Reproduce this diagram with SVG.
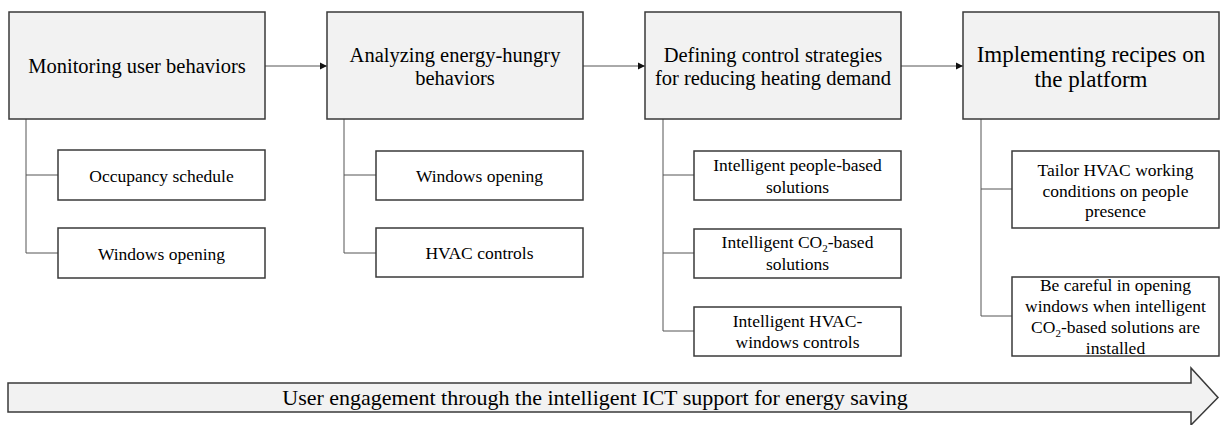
<svg xmlns="http://www.w3.org/2000/svg" width="1220" height="425" viewBox="0 0 1220 425" font-family="'Liberation Serif', 'Times New Roman', serif">
<defs>
<style>
text{font-family:"Liberation Serif","Times New Roman",serif;fill:#000;text-anchor:middle}
.main{fill:#f2f2f2;stroke:#3a3a3a;stroke-width:1.5}
.sub{fill:#fff;stroke:#3a3a3a;stroke-width:1.5}
.big{font-size:20.5px}
.big4{font-size:23px}
.sm{font-size:17.5px}
.conn{fill:none;stroke:#555;stroke-width:1}
</style>
<marker id="ah" markerWidth="8" markerHeight="8" refX="7" refY="4" orient="auto" markerUnits="userSpaceOnUse">
<path d="M0,0.5 L7,4 L0,7.5 Z" fill="#111"/>
</marker>
</defs>
<rect width="1220" height="425" fill="#fff"/>
<g id="connectors">
<line class="conn" x1="265" y1="66" x2="327" y2="66" marker-end="url(#ah)"/>
<line class="conn" x1="583" y1="66" x2="645" y2="66" marker-end="url(#ah)"/>
<line class="conn" x1="901" y1="66" x2="963" y2="66" marker-end="url(#ah)"/>
<path class="conn" d="M26,119 V253 H58 M26,175 H58"/>
<path class="conn" d="M344,119 V253 H376 M344,175 H376"/>
<path class="conn" d="M663,119 V331 H694 M663,175 H694 M663,253 H694"/>
<path class="conn" d="M981,119 V316 H1012 M981,189 H1012"/>
</g>
<g id="n1">
<rect class="main" x="9" y="12" width="256" height="107"/>
<text class="big" x="137" y="73">Monitoring user behaviors</text>
</g>
<g id="n1a">
<rect class="sub" x="58" y="150" width="207" height="50"/>
<text class="sm" x="161.5" y="182">Occupancy schedule</text>
</g>
<g id="n1b">
<rect class="sub" x="58" y="228" width="207" height="50"/>
<text class="sm" x="161.5" y="260">Windows opening</text>
</g>
<g id="n2">
<rect class="main" x="327" y="12" width="256" height="107"/>
<text class="big" x="455" y="62">Analyzing energy-hungry</text>
<text class="big" x="455" y="85">behaviors</text>
</g>
<g id="n2a">
<rect class="sub" x="376" y="151" width="207" height="49"/>
<text class="sm" x="479.5" y="182">Windows opening</text>
</g>
<g id="n2b">
<rect class="sub" x="376" y="228" width="207" height="49"/>
<text class="sm" x="479.5" y="259">HVAC controls</text>
</g>
<g id="n3">
<rect class="main" x="645" y="12" width="256" height="107"/>
<text class="big" x="773" y="62">Defining control strategies</text>
<text class="big" x="773" y="85">for reducing heating demand</text>
</g>
<g id="n3a">
<rect class="sub" x="694" y="151" width="207" height="49"/>
<text class="sm" x="797.5" y="171">Intelligent people-based</text>
<text class="sm" x="797.5" y="193">solutions</text>
</g>
<g id="n3b">
<rect class="sub" x="694" y="229" width="207" height="49"/>
<text class="sm" x="797.5" y="248">Intelligent CO<tspan font-size="11" dy="4">2</tspan><tspan dy="-4">-based</tspan></text>
<text class="sm" x="797.5" y="270">solutions</text>
</g>
<g id="n3c">
<rect class="sub" x="694" y="307" width="207" height="49"/>
<text class="sm" x="797.5" y="327">Intelligent HVAC-</text>
<text class="sm" x="797.5" y="348">windows controls</text>
</g>
<g id="n4">
<rect class="main" x="963" y="12" width="256" height="107"/>
<text class="big4" x="1091" y="62">Implementing recipes on</text>
<text class="big4" x="1091" y="87">the platform</text>
</g>
<g id="n4a">
<rect class="sub" x="1012" y="151" width="207" height="77"/>
<text class="sm" x="1115.5" y="176">Tailor HVAC working</text>
<text class="sm" x="1115.5" y="197">conditions on people</text>
<text class="sm" x="1115.5" y="217">presence</text>
</g>
<g id="n4b">
<rect class="sub" x="1012" y="277" width="207" height="79"/>
<text class="sm" x="1115.5" y="291">Be careful in opening</text>
<text class="sm" x="1115.5" y="312">windows when intelligent</text>
<text class="sm" x="1115.5" y="333">CO<tspan font-size="11" dy="4">2</tspan><tspan dy="-4">-based solutions are</tspan></text>
<text class="sm" x="1115.5" y="354">installed</text>
</g>
<g id="banner">
<path d="M8,383 H1191 V368 L1218,397.5 L1191,425 V412 H8 Z" fill="#f2f2f2" stroke="#3a3a3a" stroke-width="1.5"/>
<text x="595" y="405" font-size="22">User engagement through the intelligent ICT support for energy saving</text>
</g>
</svg>
